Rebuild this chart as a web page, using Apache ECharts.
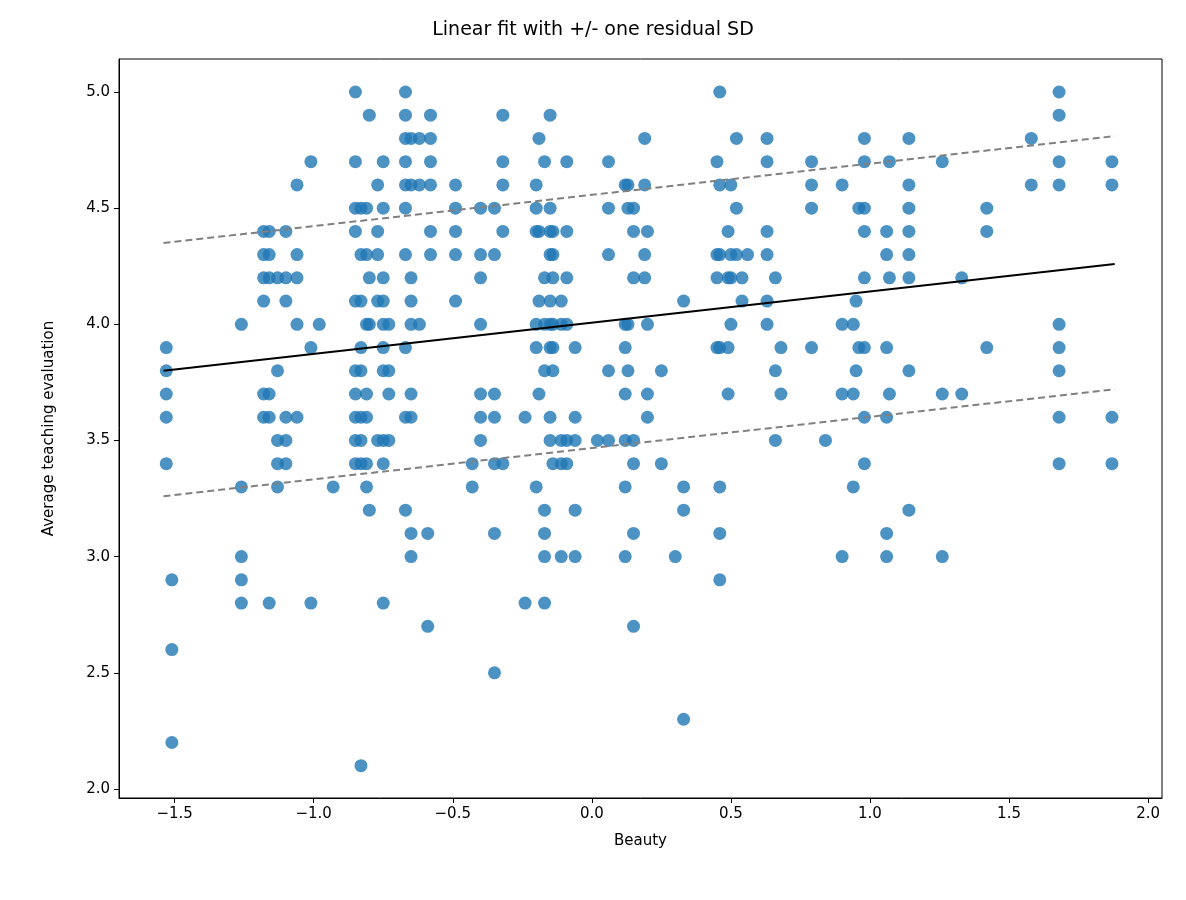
<!DOCTYPE html>
<html>
<head>
<meta charset="utf-8">
<script src="https://cdn.jsdelivr.net/npm/echarts@6/dist/echarts.min.js"></script>
<style>html,body{margin:0;padding:0;background:#fff}#c{width:1186px;height:900px}</style>
</head>
<body>
<div id="c"></div>
<script>
// beauty value of each column of points, and the scores stacked in that column
var beautyCols = [-1.53,-1.51,-1.26,-1.18,-1.16,-1.13,-1.10,-1.06,-1.01,-0.98,-0.93,-0.85,-0.83,-0.81,-0.80,-0.77,-0.75,-0.73,-0.67,-0.65,-0.62,-0.59,-0.58,-0.49,-0.43,-0.40,-0.35,-0.32,-0.24,-0.20,-0.19,-0.17,-0.15,-0.14,-0.11,-0.09,-0.06,0.02,0.06,0.12,0.13,0.15,0.19,0.20,0.25,0.30,0.33,0.45,0.46,0.49,0.50,0.52,0.54,0.56,0.63,0.66,0.68,0.79,0.84,0.90,0.94,0.95,0.96,0.98,1.06,1.07,1.14,1.26,1.33,1.42,1.58,1.68,1.87];
var scoreCols = [
  [3.9,3.8,3.7,3.6,3.4],[2.9,2.6,2.2],[4.0,3.3,3.0,2.9,2.8],[4.3,4.4,4.2,4.1,3.7,3.6],
  [4.4,4.3,4.2,3.7,3.6,2.8],[4.2,3.8,3.5,3.4,3.3],[4.4,4.2,4.1,3.6,3.5,3.4],[4.6,4.3,4.2,4.0,3.6],
  [4.7,3.9,2.8],[4.0],[3.3],[5.0,4.7,4.5,4.4,4.1,3.8,3.7,3.6,3.5,3.4],
  [4.5,4.3,4.1,3.9,3.8,3.6,3.5,3.4,2.1],[4.5,4.3,4.0,3.7,3.6,3.4,3.3],[4.9,4.2,4.0,3.2],[4.6,4.4,4.3,4.1,3.5],
  [4.7,4.5,4.2,4.1,4.0,3.9,3.8,3.5,3.4,2.8],[4.0,3.8,3.7,3.5],[5.0,4.9,4.8,4.7,4.6,4.5,4.3,3.9,3.6,3.2],
  [4.8,4.6,4.2,4.1,4.0,3.7,3.6,3.1,3.0],[4.8,4.6,4.0],[3.1,2.7],[4.9,4.8,4.7,4.6,4.4,4.3],
  [4.6,4.5,4.4,4.3,4.1],[3.4,3.3],[4.5,4.3,4.2,4.0,3.7,3.6,3.5],[4.5,4.3,3.7,3.6,3.4,3.1,2.5],
  [4.9,4.7,4.6,4.4,3.4],[3.6,2.8],[4.6,4.5,4.4,4.0,3.9,3.3],[4.8,4.4,4.1,3.7],
  [4.7,4.2,4.0,3.8,3.2,3.1,3.0,2.8],[4.9,4.5,4.4,4.3,4.1,4.0,3.9,3.6,3.5],[4.4,4.3,4.2,4.0,3.9,3.8,3.4],
  [4.1,4.0,3.5,3.4,3.0],[4.7,4.4,4.2,4.0,3.5,3.4],[3.9,3.6,3.5,3.2,3.0],[3.5],[4.7,4.5,4.3,3.8,3.5],
  [4.6,4.0,3.9,3.7,3.5,3.3,3.0],[4.6,4.5,4.0,3.8],[4.4,4.5,4.2,3.5,3.4,3.1,2.7],[4.8,4.6,4.3,4.2],
  [4.4,4.0,3.7,3.6],[3.8,3.4],[3.0],[4.1,3.3,3.2,2.3],[4.7,4.3,4.2,3.9],[5.0,4.6,4.3,3.9,3.3,3.1,2.9],
  [4.4,4.2,3.9,3.7],[4.6,4.3,4.2,4.0],[4.8,4.5,4.3],[4.2,4.1],[4.3],[4.8,4.7,4.4,4.3,4.1,4.0],
  [4.2,3.8,3.5],[3.9,3.7],[4.7,4.6,4.5,3.9],[3.5],[4.6,4.0,3.7,3.0],[4.0,3.7,3.3],[4.1,3.8],[4.5,3.9],
  [4.8,4.7,4.5,4.4,4.2,3.9,3.6,3.4],[4.3,4.4,3.9,3.6,3.1,3.0],[4.7,4.2,3.7],
  [4.8,4.6,4.5,4.4,4.3,4.2,3.8,3.2],[4.7,3.7,3.0],[4.2,3.7],[4.5,4.4,3.9],[4.8,4.6],
  [5.0,4.9,4.7,4.6,4.0,3.9,3.8,3.6,3.4],[4.7,4.6,3.6,3.4]
];
var fitX = [-1.54, 1.88];
var fitY = [3.80, 4.26];
var upperY = [4.35, 4.81];
var lowerY = [3.26, 3.72];
var xTicks = [-1.5,-1.0,-0.5,0.0,0.5,1.0,1.5,2.0];
var yTicks = [2.0,2.5,3.0,3.5,4.0,4.5,5.0];

var points = [];
beautyCols.forEach(function(b,i){
  scoreCols[i].forEach(function(s){ points.push([b,s]); });
});
function pair(ys){ return [[fitX[0],ys[0]],[fitX[1],ys[1]]]; }
function fmt(v){ var s=v.toFixed(1); return v<0 ? '\u2212'+s.slice(1) : s; }

var chart = echarts.init(document.getElementById('c'));
var axisFont = {color:'#000', fontSize:15, fontFamily:'DejaVu Sans'};
chart.setOption({
  animation:false,
  title:{text:'Linear fit with +/- one residual SD',left:'center',top:16,
    textStyle:{fontFamily:'DejaVu Sans',fontSize:19,fontWeight:'normal',color:'#000'}},
  grid:{left:119,right:24,top:59,bottom:102,show:true,borderColor:'#000',borderWidth:1},
  xAxis:{type:'value',min:-1.70,max:2.05,name:'Beauty',nameLocation:'middle',nameGap:36,
    nameTextStyle:axisFont,
    axisLine:{onZero:false,lineStyle:{color:'#000'}},splitLine:{show:false},
    axisTick:{customValues:xTicks,length:5,lineStyle:{color:'#000'}},
    axisLabel:Object.assign({customValues:xTicks,formatter:fmt,margin:9},axisFont)},
  yAxis:{type:'value',min:1.961,max:5.142,name:'Average teaching evaluation',nameLocation:'middle',nameGap:62,
    nameTextStyle:axisFont,
    axisLine:{show:true,onZero:false,lineStyle:{color:'#000'}},splitLine:{show:false},
    axisTick:{show:true,customValues:yTicks,length:5,lineStyle:{color:'#000'}},
    axisLabel:Object.assign({customValues:yTicks,formatter:fmt,margin:9},axisFont)},
  series:[
    {type:'scatter',data:points,symbolSize:13,itemStyle:{color:'#1f77b4',opacity:0.8}},
    {type:'line',data:pair(fitY),symbol:'none',lineStyle:{color:'#000',width:2}},
    {type:'line',data:pair(upperY),symbol:'none',lineStyle:{color:'#808080',width:2,type:[7,4]}},
    {type:'line',data:pair(lowerY),symbol:'none',lineStyle:{color:'#808080',width:2,type:[7,4]}}
  ]
});
</script>
</body>
</html>
